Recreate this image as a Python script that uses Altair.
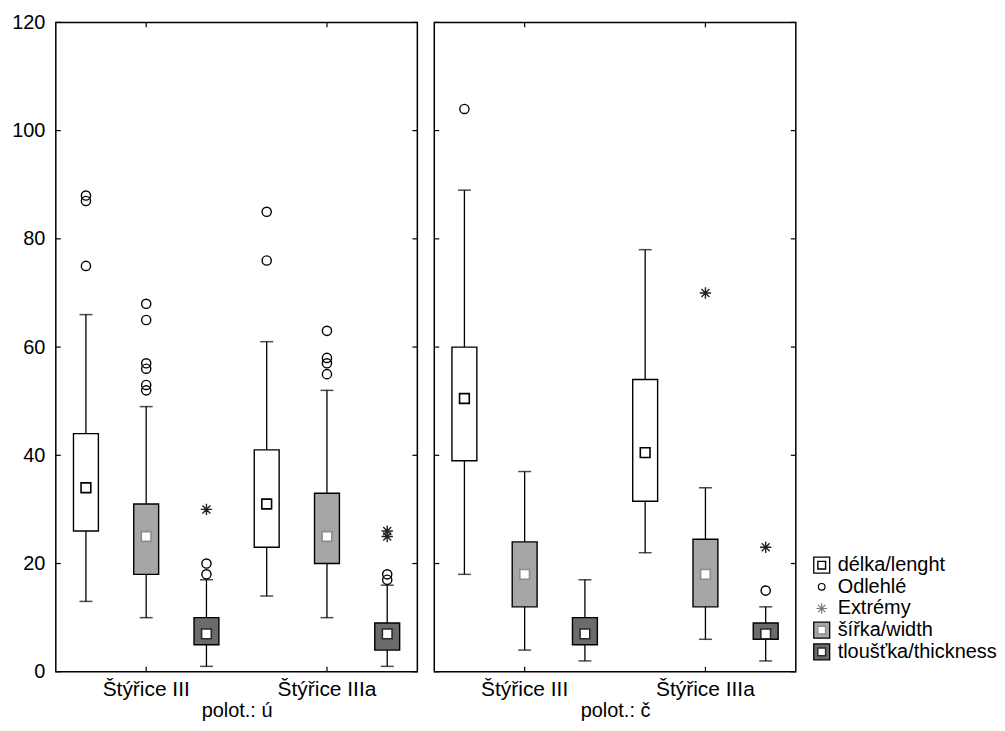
import altair as alt
import pandas as pd

panels = ["polot.: ú", "polot.: č"]
groups = ["Štýřice III", "Štýřice IIIa"]
measures = ["délka/lenght", "šířka/width", "tloušťka/thickness"]
legend_labels = ["délka/lenght", "Odlehlé", "Extrémy", "šířka/width", "tloušťka/thickness"]
y_ticks = [0, 20, 40, 60, 80, 100, 120]

# order of values: Štýřice III (délka, šířka, tloušťka), Štýřice IIIa (délka, šířka, tloušťka)
lo_u = [13, 10, 1, 14, 10, 1]
q1_u = [26, 18, 5, 23, 20, 4]
med_u = [34, 25, 7, 31, 25, 7]
q3_u = [44, 31, 10, 41, 33, 9]
hi_u = [66, 49, 17, 61, 52, 16]

lo_c = [18, 4, 2, 22, 6, 2]
q1_c = [39, 12, 5, 31.5, 12, 6]
med_c = [50.5, 18, 7, 40.5, 18, 7]
q3_c = [60, 24, 10, 54, 24.5, 9]
hi_c = [89, 37, 17, 78, 34, 12]

outliers_u = [
    ("Štýřice III", "délka/lenght", [88, 87, 75]),
    ("Štýřice III", "šířka/width", [68, 65, 57, 56, 53, 52]),
    ("Štýřice III", "tloušťka/thickness", [20, 18]),
    ("Štýřice IIIa", "délka/lenght", [85, 76]),
    ("Štýřice IIIa", "šířka/width", [63, 58, 57, 55]),
    ("Štýřice IIIa", "tloušťka/thickness", [18, 17]),
]
outliers_c = [
    ("Štýřice III", "délka/lenght", [104]),
    ("Štýřice IIIa", "tloušťka/thickness", [15]),
]
extremes_u = [
    ("Štýřice III", "tloušťka/thickness", [30]),
    ("Štýřice IIIa", "tloušťka/thickness", [26, 25]),
]
extremes_c = [
    ("Štýřice IIIa", "šířka/width", [70]),
    ("Štýřice IIIa", "tloušťka/thickness", [23]),
]

fill_colors = ["#ffffff", "#a6a6a6", "#6b6b6b"]
median_strokes = ["#000000", "#8c8c8c", "#2a2a2a"]
ASTERISK = "M0,-1L0,1M-1,0L1,0M-0.7,-0.7L0.7,0.7M-0.7,0.7L0.7,-0.7"

keys = [f"{g}|{m}" for g in groups for m in measures]
W, H = 363, 652


def box_frame(lo, q1, med, q3, hi):
    rows = []
    i = 0
    for g in groups:
        for m in measures:
            rows.append(dict(key=f"{g}|{m}", group=g, measure=m,
                             lo=lo[i], q1=q1[i], med=med[i], q3=q3[i], hi=hi[i]))
            i += 1
    return pd.DataFrame(rows)


def point_frame(items):
    rows = []
    for g, m, vals in items:
        for v in vals:
            rows.append(dict(key=f"{g}|{m}", measure=m, value=v))
    return pd.DataFrame(rows, columns=["key", "measure", "value"])


def make_panel(name, boxes, outs, exts, show_y):
    xenc = alt.X(
        "key:N",
        scale=alt.Scale(domain=keys, paddingInner=0, paddingOuter=0),
        axis=alt.Axis(
            title=name, labelExpr="indexof(datum.value, 'šířka') >= 0 ? split(datum.value, '|')[0] : ''",
            ticks=False, domain=False, labelAngle=0, labelFontSize=21, labelPadding=7,
            titleFontSize=20, titleFontWeight="normal", titlePadding=1, labelOverlap=False,
        ),
    )
    yscale = alt.Scale(domain=[0, 120], nice=False, zero=True)
    if show_y:
        yaxis = alt.Axis(values=y_ticks, title=None, ticks=False, domain=False, grid=False,
                         labelFontSize=20, labelPadding=11, minExtent=47)
    else:
        yaxis = None

    def Y(field):
        return alt.Y(field, scale=yscale, axis=yaxis)

    bdata = alt.Chart(boxes)
    whisker = bdata.mark_rule(color="black", strokeWidth=1.3).encode(x=xenc, y=Y("lo:Q"), y2="hi:Q")
    cap_lo = bdata.mark_tick(color="black", size=13, thickness=1.5, orient="horizontal").encode(x=xenc, y=Y("lo:Q"))
    cap_hi = bdata.mark_tick(color="black", size=13, thickness=1.5, orient="horizontal").encode(x=xenc, y=Y("hi:Q"))
    box = bdata.mark_bar(size=25, stroke="black", strokeWidth=1.4).encode(
        x=xenc, y=Y("q1:Q"), y2="q3:Q",
        fill=alt.Fill("measure:N", scale=alt.Scale(domain=measures, range=fill_colors), legend=None),
    )
    med = bdata.mark_square(size=95, strokeWidth=1.6, opacity=1, fill="white").encode(
        x=xenc, y=Y("med:Q"),
        stroke=alt.Stroke("measure:N", scale=alt.Scale(domain=measures, range=median_strokes), legend=None),
    )
    layers = [whisker, cap_lo, cap_hi, box, med]
    if len(outs):
        layers.append(alt.Chart(outs).mark_point(shape="circle", size=85, filled=False, color="black",
                                                 strokeWidth=1.4, opacity=1).encode(x=xenc, y=Y("value:Q")))
    if len(exts):
        layers.append(alt.Chart(exts).mark_point(shape=ASTERISK, size=130, filled=False, color="#222",
                                                 strokeWidth=1.4, opacity=1).encode(x=xenc, y=Y("value:Q")))
    ytick_df = pd.DataFrame({"v": y_ticks})
    layers.append(alt.Chart(ytick_df).mark_rule(color="black", strokeWidth=1.2).encode(
        y=Y("v:Q"), x=alt.value(0), x2=alt.value(5)))
    layers.append(alt.Chart(ytick_df).mark_rule(color="black", strokeWidth=1.2).encode(
        y=Y("v:Q"), x=alt.value(W - 5), x2=alt.value(W)))
    xtick_df = pd.DataFrame({"key": [f"{g}|{measures[1]}" for g in groups]})
    layers.append(alt.Chart(xtick_df).mark_rule(color="black", strokeWidth=1.2).encode(
        x=xenc, y=alt.value(0), y2=alt.value(5)))
    layers.append(alt.Chart(xtick_df).mark_rule(color="black", strokeWidth=1.2).encode(
        x=xenc, y=alt.value(H - 5), y2=alt.value(H)))
    return alt.layer(*layers).properties(width=W, height=H)


left = make_panel(panels[0], box_frame(lo_u, q1_u, med_u, q3_u, hi_u),
                  point_frame(outliers_u), point_frame(extremes_u), True)
right = make_panel(panels[1], box_frame(lo_c, q1_c, med_c, q3_c, hi_c),
                   point_frame(outliers_c), point_frame(extremes_c), False)

# legend
leg = pd.DataFrame({"label": legend_labels})
ly = alt.Y("label:N", scale=alt.Scale(domain=legend_labels, range=[545, 632], padding=0), axis=None)
lbase = alt.Chart(leg)
leg_outer = lbase.transform_filter(alt.FieldOneOfPredicate(field="label", oneOf=measures)).mark_square(
    size=256, stroke="black", strokeWidth=1.3, opacity=1).encode(
    x=alt.value(6), y=ly,
    fill=alt.Fill("label:N", scale=alt.Scale(domain=measures, range=fill_colors), legend=None))
leg_inner = lbase.transform_filter(alt.FieldOneOfPredicate(field="label", oneOf=measures)).mark_square(
    size=60, strokeWidth=1.4, opacity=1, fill="white").encode(
    x=alt.value(6), y=ly,
    stroke=alt.Stroke("label:N", scale=alt.Scale(domain=measures, range=median_strokes), legend=None))
leg_circ = lbase.transform_filter(alt.datum.label == "Odlehlé").mark_point(
    shape="circle", size=45, filled=False, color="black", strokeWidth=1.2, opacity=1).encode(x=alt.value(6), y=ly)
leg_ast = lbase.transform_filter(alt.datum.label == "Extrémy").mark_point(
    shape=ASTERISK, size=110, filled=False, color="#777", strokeWidth=1.2, opacity=1).encode(x=alt.value(6), y=ly)
leg_text = lbase.mark_text(align="left", baseline="middle", fontSize=20, color="black").encode(
    x=alt.value(22), y=ly, text="label:N")
legend = alt.layer(leg_outer, leg_inner, leg_circ, leg_ast, leg_text).properties(
    width=20, height=H, view=alt.ViewBackground(strokeOpacity=0))

chart = alt.hconcat(left, right, legend, spacing=13).properties(
    padding={"left": 0, "top": 2, "right": 0, "bottom": 0}
).configure(font="Liberation Sans").configure_view(stroke="black", strokeWidth=1.5).configure_axis(
    labelColor="black", titleColor="black", grid=False)

chart.save("out.html", embed_options={"renderer": "svg", "actions": False})
